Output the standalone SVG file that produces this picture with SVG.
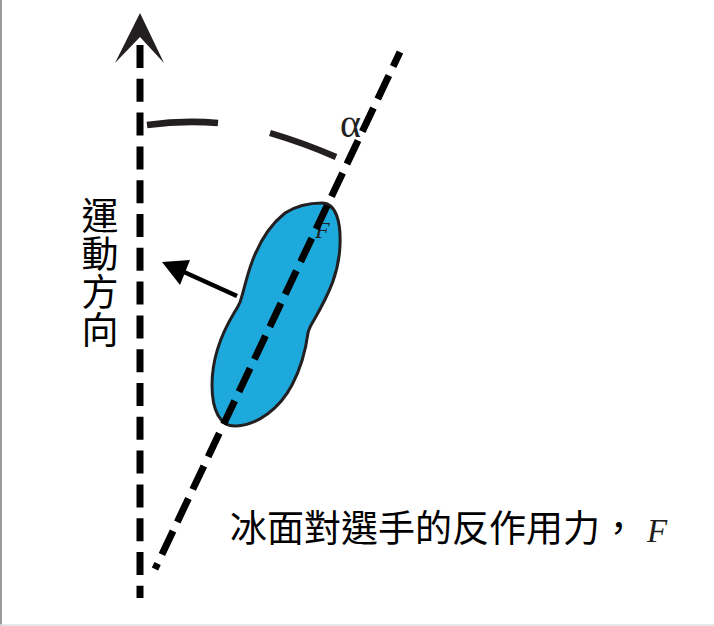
<svg xmlns="http://www.w3.org/2000/svg" width="714" height="626" viewBox="0 0 714 626">
<style>
.dash{fill:none;stroke:#000;stroke-width:7}
.arc{fill:none;stroke:#231f20;stroke-width:6.5}
.cjk{font-family:"Noto Sans CJK TC","Noto Sans CJK SC",sans-serif;font-size:37px;fill:#000}
.ser{font-family:"Liberation Serif","DejaVu Serif",serif;fill:#231f20}
</style>
<rect x="0" y="0" width="714" height="626" fill="#fff"/>
<line x1="1" y1="0" x2="1" y2="626" stroke="#9a9a9a" stroke-width="2"/>
<line x1="0" y1="625" x2="714" y2="625" stroke="#e0e0e0" stroke-width="1.5"/>

<g id="skater">
<path d="M322,203 C336,203 341,222 340,245 C339,272 330,292 314,320 C311,325 309,328 308,333 C306,348 302,366 292,385 C280,408 258,425 236,426 C220,427 212,410 212,385 C212,358 222,333 234,313 C237,308 240,304 241,299 C244,290 247,275 252,262 C260,240 270,225 285,213 C296,206 310,203 322,203 Z" fill="#1ea9dc" stroke="#231f20" stroke-width="3"/>
<text class="ser" x="315" y="238" font-size="24" font-style="italic">F</text>
</g>

<g id="connectors">
<line id="motion-axis" class="dash" x1="140" y1="45" x2="140" y2="598" stroke-dasharray="23 10.8"/>
<polygon id="motion-head" points="140,13 164,63 140,37 115,63" fill="#231f20"/>
<line id="force-line" class="dash" x1="400" y1="52" x2="155" y2="569" stroke-dasharray="26 10" stroke-dashoffset="10"/>
<line id="push-arrow" x1="237" y1="296" x2="184" y2="272" stroke="#000" stroke-width="4.5"/>
<polygon points="162,262 190,260 180,285" fill="#000"/>
<path class="arc" d="M147,125 Q183,120 218,123"/>
<path class="arc" d="M270,133 Q304,143 336,157"/>
</g>

<g id="alpha-label">
<text class="ser" x="340" y="137" font-size="40">α</text>
</g>

<g id="motion-label">
<text class="cjk" x="100" y="197" font-size="36" letter-spacing="1" style="writing-mode:vertical-rl">運動方向</text>
</g>

<g id="force-label">
<text x="230" y="542"><tspan class="cjk">冰面對選手的反作用力，</tspan><tspan class="ser" dx="10" font-size="33" font-style="italic" fill="#000">F</tspan></text>
</g>
</svg>
